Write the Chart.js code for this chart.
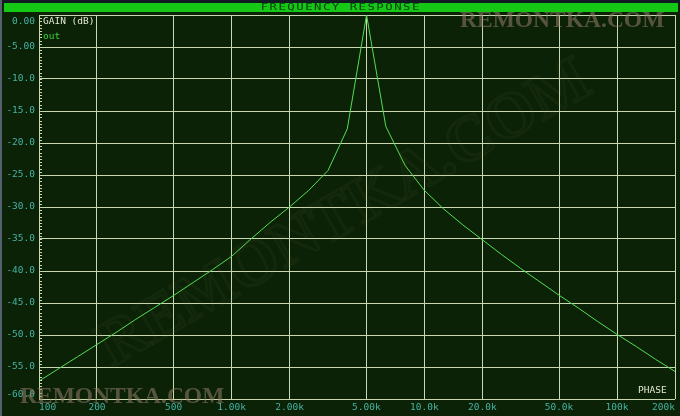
<!DOCTYPE html>
<html>
<head>
<meta charset="utf-8">
<script src="https://cdn.jsdelivr.net/npm/chart.js@4/dist/chart.umd.min.js"></script>
<style>
  html,body{margin:0;padding:0;background:#0b2207;}
  canvas{display:block;}
</style>
</head>
<body>
<canvas id="c" width="680" height="416" style="width:680px;height:416px"></canvas>
<script>
// ---- data ----
const freqs = [100,125.9,158.5,199.5,251.2,316.2,398.1,501.2,631,794.3,
  1000,1259,1585,1995,2512,3162,3981,5012,6310,7943,
  10000,12590,15850,19950,25120,31620,39810,50120,63100,79430,
  100000,125900,158500,200000];
const gains = [-57.2,-55.3,-53.4,-51.5,-49.6,-47.6,-45.7,-43.8,-41.8,-39.8,
  -37.7,-35.0,-32.4,-30.0,-27.4,-24.3,-17.8,0.0,-17.4,-23.5,
  -27.4,-30.3,-32.8,-35.1,-37.4,-39.6,-41.7,-43.8,-45.8,-47.9,
  -49.9,-51.8,-53.8,-55.7];
const xTickValues = [100,200,500,1000,2000,5000,10000,20000,50000,100000,200000];
const xTickLabels = ["100","200","500","1.00k","2.00k","5.00k","10.0k","20.0k","50.0k","100k","200k"];
const yTickValues = [0,-5,-10,-15,-20,-25,-30,-35,-40,-45,-50,-55,-60];
const yTickLabels = ["0.00","-5.00","-10.0","-15.0","-20.0","-25.0","-30.0","-35.0","-40.0","-45.0","-50.0","-55.0","-60.0"];
const titleText = "FREQUENCY RESPONSE";
const seriesName = "out";
const axisName = "GAIN (dB)";
const secondAxisName = "PHASE";
const watermark = "REMONTKA.COM";

const BG = '#0b2207';
const GRID = '#c9d8b2';
const TICKC = '#45b3a3';
const LINE = '#55dd55';
const MONO = '"DejaVu Sans Mono", "Liberation Mono", monospace';

const framePlugin = {
  id: 'frame',
  beforeDraw(chart) {
    const ctx = chart.ctx;
    ctx.save();
    ctx.fillStyle = BG;
    ctx.fillRect(0, 0, chart.width, chart.height);
    ctx.fillStyle = '#121a22';
    ctx.fillRect(0, 0, chart.width, 3);
    ctx.fillStyle = '#556070';
    ctx.fillRect(0, 0, 2, chart.height);
    ctx.fillStyle = '#16c816';
    ctx.fillRect(4, 3, 674, 9);
    ctx.fillStyle = '#0a3a0a';
    ctx.font = '9.5px ' + MONO;
    ctx.textBaseline = 'middle';
    ctx.textAlign = 'center';
    const adv = 8.9;
    const x0 = 340 - (titleText.length - 1) * adv / 2;
    for (let i = 0; i < titleText.length; i++) {
      ctx.save();
      ctx.translate(x0 + i * adv, 8);
      ctx.scale(1.3, 1);
      ctx.fillText(titleText[i], 0, 0);
      ctx.restore();
    }
    ctx.restore();
  },
  afterDraw(chart) {
    const ctx = chart.ctx;
    const y = chart.scales.y;
    const a = chart.chartArea;
    ctx.save();
    // minor ticks on left border
    ctx.strokeStyle = GRID;
    ctx.lineWidth = 1;
    ctx.beginPath();
    ctx.moveTo(a.left + 0.5, a.top);
    ctx.lineTo(a.left + 0.5, a.bottom);
    for (let v = 0; v >= -60; v -= 0.5) {
      const py = Math.round(y.getPixelForValue(v)) + 0.5;
      ctx.moveTo(a.left, py);
      ctx.lineTo(a.left + 3, py);
    }
    ctx.stroke();
    // texts inside plot
    ctx.font = '9.5px ' + MONO;
    ctx.textBaseline = 'middle';
    ctx.textAlign = 'left';
    ctx.fillStyle = '#e2e8d4';
    ctx.fillText(axisName, a.left + 4, 22);
    ctx.fillStyle = '#3cd23c';
    ctx.fillText(seriesName, a.left + 4, 37);
    ctx.fillStyle = '#e2e8d4';
    ctx.fillText(secondAxisName, 638, 391);
    // watermarks
    ctx.font = 'bold 23.5px "Liberation Serif", "DejaVu Serif", serif';
    ctx.textBaseline = 'alphabetic';
    ctx.fillStyle = 'rgba(150,125,105,0.55)';
    ctx.fillText(watermark, 460, 27);
    ctx.fillText(watermark, 20, 403);
    ctx.translate(345, 215);
    ctx.rotate(-0.52);
    ctx.font = 'bold 64px "Liberation Serif", "DejaVu Serif", serif';
    ctx.textAlign = 'center';
    ctx.textBaseline = 'middle';
    ctx.strokeStyle = 'rgba(140,130,90,0.07)';
    ctx.lineWidth = 3;
    ctx.strokeText(watermark, 0, 0);
    ctx.restore();
  }
};

new Chart(document.getElementById('c'), {
  type: 'line',
  data: {
    datasets: [{
      label: seriesName,
      data: freqs.map((f, i) => ({ x: f, y: gains[i] })),
      borderColor: LINE,
      borderWidth: 1,
      pointRadius: 0,
      tension: 0,
      fill: false,
      clip: false
    }]
  },
  options: {
    responsive: false,
    animation: false,
    devicePixelRatio: 1,
    layout: { padding: { top: 15, right: 5, left: 0, bottom: 0 } },
    plugins: { legend: { display: false }, tooltip: { enabled: false }, title: { display: false } },
    scales: {
      x: {
        type: 'logarithmic',
        min: 100, max: 200000,
        afterBuildTicks: s => { s.ticks = xTickValues.map(v => ({ value: v })); },
        afterFit: s => { s.height = 15; },
        border: { display: false },
        grid: { color: GRID, lineWidth: 1, drawTicks: false },
        ticks: {
          color: TICKC, font: { family: MONO, size: 9.5 }, padding: 3,
          maxRotation: 0, autoSkip: false, align: 'inner',
          callback: (v, i) => xTickLabels[i]
        }
      },
      y: {
        min: -60, max: 0,
        afterBuildTicks: s => { s.ticks = yTickValues.map(v => ({ value: v })); },
        afterFit: s => { s.width = 39; },
        border: { display: false },
        grid: { color: GRID, lineWidth: 1, drawTicks: false },
        ticks: {
          color: TICKC, padding: 4, autoSkip: false,
          font: ctx => {
            const v = ctx.tick ? ctx.tick.value : null;
            if (v === 0) return { family: MONO, size: 9.5, lineHeight: '13px' };
            if (v === -60) return { family: MONO, size: 9.5, lineHeight: '8px' };
            return { family: MONO, size: 9.5 };
          },
          callback: v => {
            const lab = yTickLabels[yTickValues.indexOf(v)];
            if (v === 0) return ["", lab];
            if (v === -60) return [lab, ""];
            return lab;
          }
        }
      }
    }
  },
  plugins: [framePlugin]
});
</script>
</body>
</html>
